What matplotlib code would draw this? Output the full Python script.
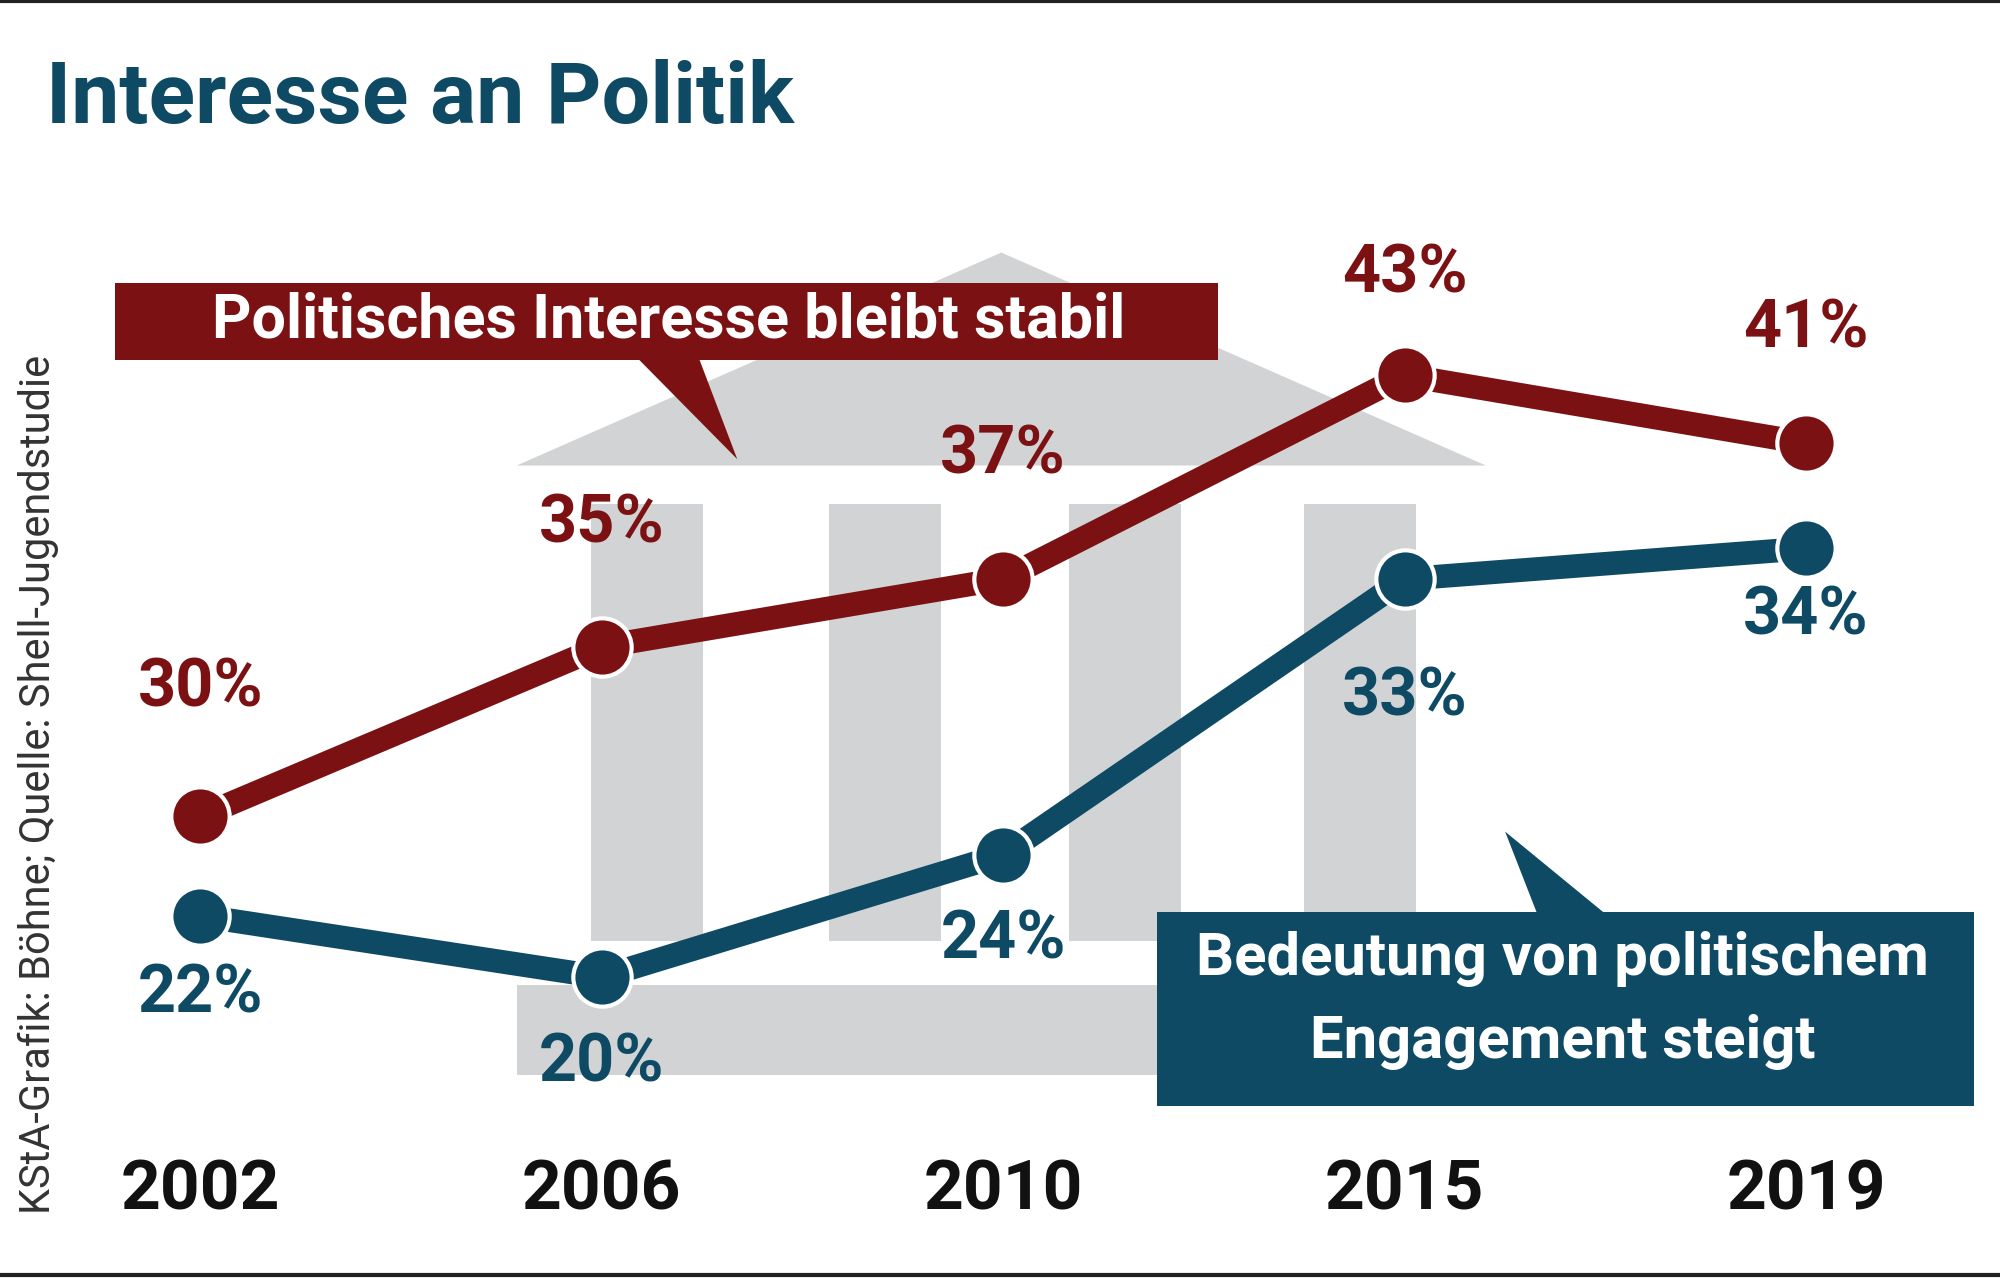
import matplotlib
matplotlib.use("Agg")
import matplotlib.pyplot as plt
from matplotlib.patches import Polygon, Rectangle

years = ["2002", "2006", "2010", "2015", "2019"]
interesse = [30, 35, 37, 43, 41]
engagement = [22, 20, 24, 33, 34]

RED = "#7c1113"
BLUE = "#0e4a64"
GREY = "#d2d3d4"
plt.rcParams['font.family'] = ['Roboto', 'DejaVu Sans']

# label offsets in reference pixels (styling)
red_off = [100, 96, 97, 79, 89]
blue_off = [62, 68, 67, 93, 53]

fig = plt.figure(figsize=(20, 12.78), dpi=100)
W, H = 1568, 1002
S = 2000 / W
deco = fig.add_axes([0, 0, 1, 1])
deco.set_xlim(0, W); deco.set_ylim(H, 0); deco.axis("off")

deco.plot([0, W], [1, 1], color="#222", lw=3)
deco.plot([0, W], [H - 2, H - 2], color="#222", lw=3)

deco.add_patch(Polygon([(405, 365), (1165, 365), (785, 198)], color=GREY, lw=0))
for x0 in [463, 650, 838, 1022]:
    deco.add_patch(Rectangle((x0, 395), 88, 343, color=GREY, lw=0))
deco.add_patch(Rectangle((405, 772), 760, 71, color=GREY, lw=0))

deco.text(36, 78, "Interesse an Politik", color=BLUE, fontsize=62, fontweight="bold",
          va="center", ha="left")
deco.text(30, 615, "KStA-Grafik: Böhne; Quelle: Shell-Jugendstudie", rotation=90,
          color="#333", fontsize=30, va="center", ha="center")

xl = (-157 / 314.75, (W - 157) / 314.75)
axr = fig.add_axes([0, 0, 1, 1], facecolor="none")
axr.set_xlim(*xl); axr.set_ylim(30 - (H - 640) / 26.6, 30 + 640 / 26.6); axr.axis("off")
axb = fig.add_axes([0, 0, 1, 1], facecolor="none")
axb.set_xlim(*xl); axb.set_ylim(22 - (H - 718) / 24.0, 22 + 718 / 24.0); axb.axis("off")

xs = list(range(len(years)))
axr.plot(xs, interesse, color=RED, lw=17, solid_capstyle="round", zorder=2)
axr.plot(xs, interesse, "o", ms=42, mfc=RED, mec="white", mew=3, zorder=3)
axb.plot(xs, engagement, color=BLUE, lw=17, solid_capstyle="round", zorder=2)
axb.plot(xs, engagement, "o", ms=42, mfc=BLUE, mec="white", mew=3, zorder=3)

for x, v, o in zip(xs, interesse, red_off):
    axr.annotate(f"{v}%", (x, v), xytext=(0, o * S), textcoords="offset pixels",
                 ha="center", va="center", color=RED, fontsize=48, fontweight="bold")
for x, v, o in zip(xs, engagement, blue_off):
    axb.annotate(f"{v}%", (x, v), xytext=(0, -o * S), textcoords="offset pixels",
                 ha="center", va="center", color=BLUE, fontsize=48, fontweight="bold")
for x, y in zip(xs, years):
    axr.annotate(y, (x, axr.get_ylim()[0]), xytext=(0, 68 * S), textcoords="offset pixels",
                 ha="center", va="center", color="#111", fontsize=50, fontweight="bold")

top = fig.add_axes([0, 0, 1, 1], facecolor="none")
top.set_xlim(0, W); top.set_ylim(H, 0); top.axis("off")
top.add_patch(Rectangle((90, 222), 865, 60, color=RED, lw=0))
top.add_patch(Polygon([(500, 281), (548, 281), (578, 360)], color=RED, lw=0))
top.text(524, 251, "Politisches Interesse bleibt stabil", color="white", fontsize=44,
         fontweight="bold", ha="center", va="center")
top.add_patch(Rectangle((907, 715), 641, 152, color=BLUE, lw=0))
top.add_patch(Polygon([(1180, 652), (1205, 716), (1258, 716)], color=BLUE, lw=0))
top.text(1225, 752, "Bedeutung von politischem", color="white", fontsize=43,
         fontweight="bold", ha="center", va="center")
top.text(1225, 817, "Engagement steigt", color="white", fontsize=43,
         fontweight="bold", ha="center", va="center")

fig.savefig("out.png", dpi=100)
